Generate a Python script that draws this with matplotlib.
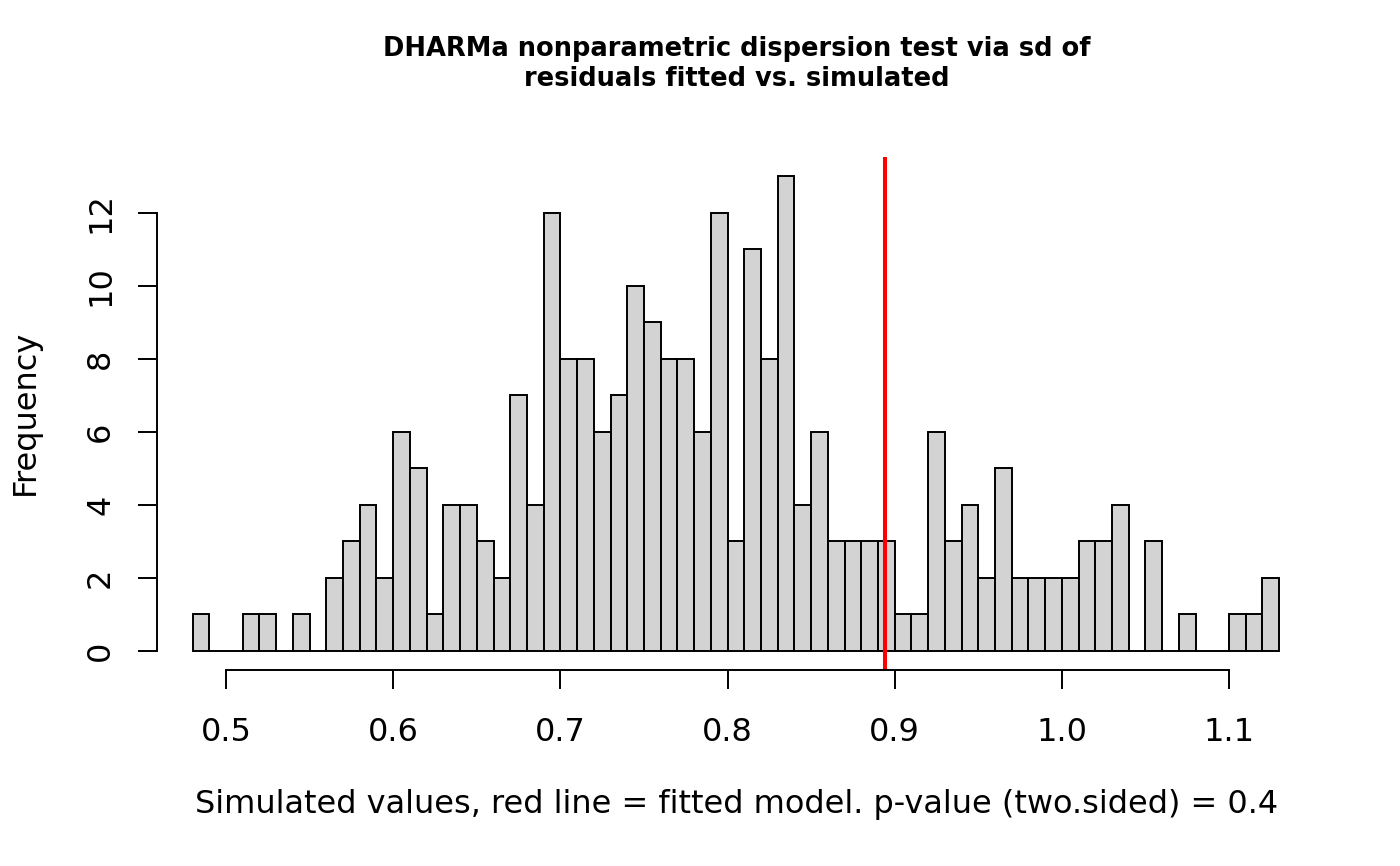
import matplotlib
matplotlib.use("Agg")
import matplotlib.pyplot as plt
import numpy as np

bin_start = 0.48
bin_width = 0.01
counts = [1, 0, 0, 1, 1, 0, 1, 0, 2, 3, 4, 2, 6, 5, 1, 4, 4, 3, 2, 7,
          4, 12, 8, 8, 6, 7, 10, 9, 8, 8, 6, 12, 3, 11, 8, 13, 4, 6, 3, 3,
          3, 3, 1, 1, 6, 3, 4, 2, 5, 2, 2, 2, 2, 3, 3, 4, 0, 3, 0, 1,
          0, 0, 1, 1, 2]
observed = 0.894
x_ticks = [0.5, 0.6, 0.7, 0.8, 0.9, 1.0, 1.1]
x_tick_labels = ["0.5", "0.6", "0.7", "0.8", "0.9", "1.0", "1.1"]
y_ticks = [0, 2, 4, 6, 8, 10, 12]
title = "DHARMa nonparametric dispersion test via sd of\nresiduals fitted vs. simulated"
xlabel = "Simulated values, red line = fitted model. p-value (two.sided) = 0.4"
ylabel = "Frequency"

plt.rcParams['font.family'] = ['DejaVu Sans']
W, H = 1400, 866
fig = plt.figure(figsize=(W / 100, H / 100), dpi=100)
xl, xr = 0.4587, 1.152
px_per_unit = 1671.7
left_px = 157
right_px = left_px + (xr - xl) * px_per_unit
top_px, bot_px = 157, 670
ax = fig.add_axes([left_px / W, 1 - bot_px / H, (right_px - left_px) / W, (bot_px - top_px) / H])

edges = bin_start + bin_width * np.arange(len(counts))
ax.bar(edges, counts, width=bin_width, align='edge', color='#D3D3D3',
       edgecolor='black', linewidth=1.4)
ax.axvline(observed, color='red', linewidth=2.9)

ax.set_xlim(xl, xr)
ax.set_ylim(-0.52, 13.52)
for s in ['top', 'right']:
    ax.spines[s].set_visible(False)
ax.spines['left'].set_bounds(0, 12)
ax.spines['bottom'].set_bounds(0.5, 1.1)
ax.spines['left'].set_linewidth(1.4)
ax.spines['bottom'].set_linewidth(1.4)
ax.set_xticks(x_ticks)
ax.set_xticklabels(x_tick_labels)
ax.set_yticks(y_ticks)
ax.set_yticklabels([str(v) for v in y_ticks], rotation=90, va='center')
ax.tick_params(axis='both', direction='out', length=13.5, width=1.4, labelsize=23)
ax.tick_params(axis='x', pad=20.5)
ax.tick_params(axis='y', pad=16)

fig.text(0.5 * (left_px + right_px) / W, 1 - 64 / H, title, ha='center', va='center',
         fontsize=18.5, fontweight='bold', linespacing=1.2)
fig.text(0.5 * (left_px + right_px) / W, 1 - 805 / H, xlabel, ha='center', va='center',
         fontsize=23)
fig.text(25 / W, 1 - 412 / H, ylabel, ha='center', va='center', rotation=90, fontsize=23)

fig.savefig("out.png", dpi=100)
